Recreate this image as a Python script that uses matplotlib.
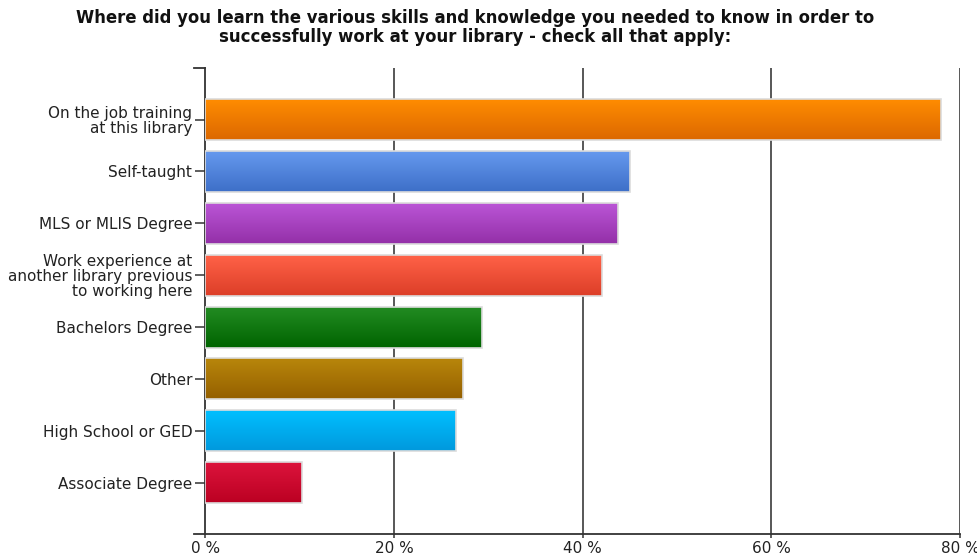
import numpy as np
import matplotlib
matplotlib.use("Agg")
import matplotlib.pyplot as plt
from matplotlib.colors import LinearSegmentedColormap
from matplotlib.transforms import blended_transform_factory

plt.rcParams['font.family'] = ['DejaVu Sans']

title = ("Where did you learn the various skills and knowledge you needed to know in order to\n"
         "successfully work at your library - check all that apply:")

categories = [
    "On the job training\nat this library",
    "Self-taught",
    "MLS or MLIS Degree",
    "Work experience at\nanother library previous\nto working here",
    "Bachelors Degree",
    "Other",
    "High School or GED",
    "Associate Degree",
]
percentages = [78.0, 45.0, 43.7, 42.0, 29.3, 27.3, 26.6, 10.2]

# top / bottom shades of each bar's vertical gradient
top_colors = ["#ff8c00", "#6699ee", "#bb55d6", "#ff6247", "#228b22",
              "#b8860b", "#00bfff", "#dc143c"]
bottom_colors = ["#dc6800", "#3d6fc8", "#9330a8", "#dc3e28", "#006400",
                 "#956000", "#0099dd", "#bb0022"]

x_ticks = [0, 20, 40, 60, 80]
x_tick_labels = ["0 %", "20 %", "40 %", "60 %", "80 %"]

fig = plt.figure(figsize=(9.78, 5.57), dpi=100)
ax = fig.add_axes([0.2101, 0.0404, 0.7715, 0.8381])

positions = np.arange(len(categories))
bar_h = 0.79
grad = np.linspace(0, 1, 64).reshape(-1, 1)

bars = ax.barh(positions, percentages, height=bar_h, facecolor='none',
               edgecolor='#dcdcdc', linewidth=1.2, zorder=4)
for bar, c_top, c_bot in zip(bars, top_colors, bottom_colors):
    x0, y0 = bar.get_x(), bar.get_y()
    w, h = bar.get_width(), bar.get_height()
    cmap = LinearSegmentedColormap.from_list("g", [c_top, c_bot])
    ax.imshow(grad, cmap=cmap, aspect='auto', interpolation='bilinear',
              extent=[x0, x0 + w, y0 + h, y0], zorder=3)
ax.set_xlim(0, 80)
ax.set_ylim(8, -1)

# vertical grid lines
for xv in x_ticks[1:]:
    ax.axvline(xv, color='#4a4a4a', linewidth=1.3, zorder=1)

for s in ['top', 'right', 'bottom']:
    ax.spines[s].set_visible(False)
ax.spines['left'].set_color('#333333')
ax.spines['left'].set_linewidth(1.3)
ax.spines['left'].set_zorder(2)

# baseline extending a little left of the value axis, plus the cap at the top
tr = blended_transform_factory(ax.transAxes, ax.transAxes)
ax.plot([-0.0146, 1.0], [0, 0], transform=tr, color='#333333', linewidth=1.3,
        clip_on=False, zorder=2)
ax.plot([-0.0146, 0.0], [1, 1], transform=tr, color='#333333', linewidth=1.3,
        clip_on=False, zorder=2)

ax.set_yticks(positions)
ax.set_yticklabels(categories, fontsize=11.0, color='#222222', linespacing=1.0)
ax.tick_params(axis='y', length=7, width=1.1, color='#333333', pad=2.5)

ax.set_xticks(x_ticks)
ax.set_xticklabels(x_tick_labels, fontsize=11.0, color='#222222')
ax.tick_params(axis='x', length=3, width=1.1, color='#333333', pad=1.5)

fig.text(0.4857, 0.984, title, ha='center', va='top', fontsize=11.9,
         fontweight='bold', color='#111111', linespacing=1.08)

fig.savefig("out.png", dpi=100)
